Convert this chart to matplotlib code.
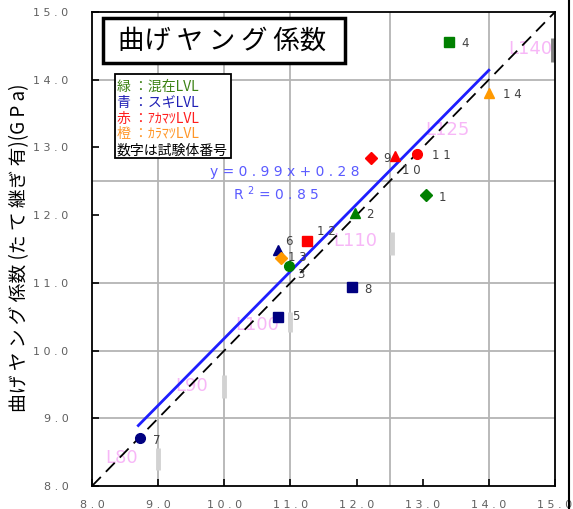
import numpy as np
import matplotlib.pyplot as plt
from matplotlib.patches import Rectangle
from matplotlib.lines import Line2D

spec_id = [1, 2, 3, 4, 5, 6, 7, 8, 9, 10, 11, 12, 13, 14]
x_val = [13.05, 11.98, 10.98, 13.40, 10.81, 10.81, 8.73, 11.93, 12.22, 12.58, 12.91, 11.25, 10.86, 14.00]
y_val = [12.30, 12.03, 11.25, 14.56, 10.50, 11.49, 8.71, 10.94, 12.84, 12.87, 12.90, 11.62, 11.37, 13.80]
group = ['mix', 'mix', 'mix', 'mix', 'sugi', 'sugi', 'sugi', 'sugi',
         'aka', 'aka', 'aka', 'aka', 'kara', 'kara']
shape = ['D', '^', 'o', 's', 's', '^', 'o', 's', 'D', '^', 'o', 's', 'D', '^']

# regression
slope = 0.99
intercept = 0.28
r2 = 0.85
fit_x = [8.7, 14.0]

# grade labels along the 1:1 line
grade_names = ['L80', 'L90', 'L100', 'L110', 'L125', 'L140']
grade_x = [8.45, 9.51, 10.49, 11.98, 13.37, 14.62]
grade_y = [8.41, 9.48, 10.38, 11.62, 13.26, 14.45]
bar_x = [9.0, 10.0, 11.0, 12.53, 14.97]
bar_y0 = [8.24, 9.30, 10.27, 11.41, 14.26]
bar_y1 = [8.56, 9.64, 10.57, 11.75, 14.62]

grid_pos = [9.0, 10.0, 11.0, 12.5, 14.0]
ticks = [8.0, 9.0, 10.0, 11.0, 12.0, 13.0, 14.0, 15.0]

group_colors = {'mix': '#008000', 'sugi': '#000080', 'aka': '#FF0000', 'kara': '#FF9900'}

# label offsets in points
label_off = {1: (9, -2), 2: (8, -1), 3: (6, -6), 4: (9, -1), 5: (10, 0), 6: (5, 6),
             7: (9, -2), 8: (9, -2), 9: (9, 0), 10: (5, -10), 11: (11, -1),
             12: (7, 7), 13: (5, 0), 14: (10, -1)}

jp = ['Noto Sans CJK JP', 'DejaVu Sans']
narrow = ['Liberation Sans Narrow', 'DejaVu Sans']
plt.rcParams['font.family'] = jp

W, H = 573, 509
fig = plt.figure(figsize=(W / 100, H / 100), dpi=100)
ax = fig.add_axes([92 / W, 1 - 486 / H, (555 - 92) / W, (486 - 12) / H])
ax.set_xlim(8, 15)
ax.set_ylim(8, 15)

for g in grid_pos:
    ax.axvline(g, color='#B4B4B4', lw=1.3, zorder=0)
    ax.axhline(g, color='#B4B4B4', lw=1.3, zorder=0)

ax.set_xticks(ticks)
ax.set_yticks(ticks)
ax.set_xticklabels([' '.join(f'{t:.1f}') for t in ticks], family=narrow, color='#606060', fontsize=8)
ax.set_yticklabels([' '.join(f'{t:.1f}') for t in ticks], family=narrow, color='#606060', fontsize=8)
ax.tick_params(direction='in', length=5, width=1.2, color='black', pad=10)
ax.tick_params(axis='y', pad=17)
for s in ax.spines.values():
    s.set_linewidth(1.3)

# 1:1 line
ax.plot([8, 15], [8, 15], color='black', lw=1.3, dashes=(7, 4), zorder=2)

# grade labels and bars
for name, gx, gy in zip(grade_names, grade_x, grade_y):
    ax.text(gx, gy, name, color='#F7B0F7', fontsize=13, ha='center', va='center',
            family=narrow, alpha=0.9, zorder=1)
for i, (bx, b0, b1) in enumerate(zip(bar_x, bar_y0, bar_y1)):
    c = '#808080' if i == len(bar_x) - 1 else '#D2D2D2'
    ax.plot([bx, bx], [b0, b1], color=c, lw=3.5, solid_capstyle='butt', zorder=1)

# regression line
fx = np.array(fit_x)
ax.plot(fx, slope * fx + intercept, color='#1E1EFF', lw=2, zorder=3)

# points
for sid, xv, yv, g, m in zip(spec_id, x_val, y_val, group, shape):
    ms = 6 if m == 'D' else 7
    ax.plot(xv, yv, marker=m, ms=ms, color=group_colors[g], mec=group_colors[g], ls='none', zorder=4)
    ax.annotate(' '.join(str(sid)), (xv, yv), xytext=label_off[sid], textcoords='offset points',
                fontsize=8.5, color='#404040', family=narrow, va='center', zorder=5)

ax.text(10.92, 12.64, f'y = {" ".join(f"{slope:.2f}")} x + {" ".join(f"{intercept:.2f}")}',
        color='#5A5AFF', fontsize=10, family=narrow, ha='center', va='center')
ax.text(10.78, 12.31, f'R $^{2}$ = {" ".join(f"{r2:.2f}")}', color='#5A5AFF', fontsize=10,
        family=narrow, ha='center', va='center')

# title box
def fxy(px, py):
    return px / W, 1 - py / H

x0, y0 = fxy(103, 63)
x1, y1 = fxy(345, 18)
fig.patches.append(Rectangle((x0, y0), x1 - x0, y1 - y0, transform=fig.transFigure,
                             fill=True, fc='white', ec='black', lw=2.5, zorder=5))
tx, ty = fxy(222, 41)
fig.text(tx, ty, '曲げ ヤ ン グ 係数', fontsize=19, ha='center', va='center', zorder=6)

# legend box
x0, y0 = fxy(115, 158)
x1, y1 = fxy(231, 74)
fig.patches.append(Rectangle((x0, y0), x1 - x0, y1 - y0, transform=fig.transFigure,
                             fill=True, fc='white', ec='black', lw=1.3, zorder=5))
leg_lines = ['緑 ：混在LVL', '青 ：スギLVL', '赤 ：ｱｶﾏﾂLVL', '橙 ：ｶﾗﾏﾂLVL', '数字は試験体番号']
leg_colors = ['#3C8214', '#1E1EB4', '#FF1E1E', '#FF9628', 'black']
for i, (t, c) in enumerate(zip(leg_lines, leg_colors)):
    lx, ly = fxy(117, 87 + i * 15.8)
    fig.text(lx, ly, t, color=c, fontsize=10, ha='left', va='center', zorder=6)

# y label
fig.text(20 / W, 1 - 248 / H, '曲げ ヤ ン グ 係数 (た て 継ぎ 有)(G P a)', rotation=90,
         fontsize=13.5, ha='center', va='center')

# right border line
fig.add_artist(Line2D([569 / W, 569 / W], [0, 1], color='black', lw=1.5))

fig.savefig('out.png', dpi=100)
